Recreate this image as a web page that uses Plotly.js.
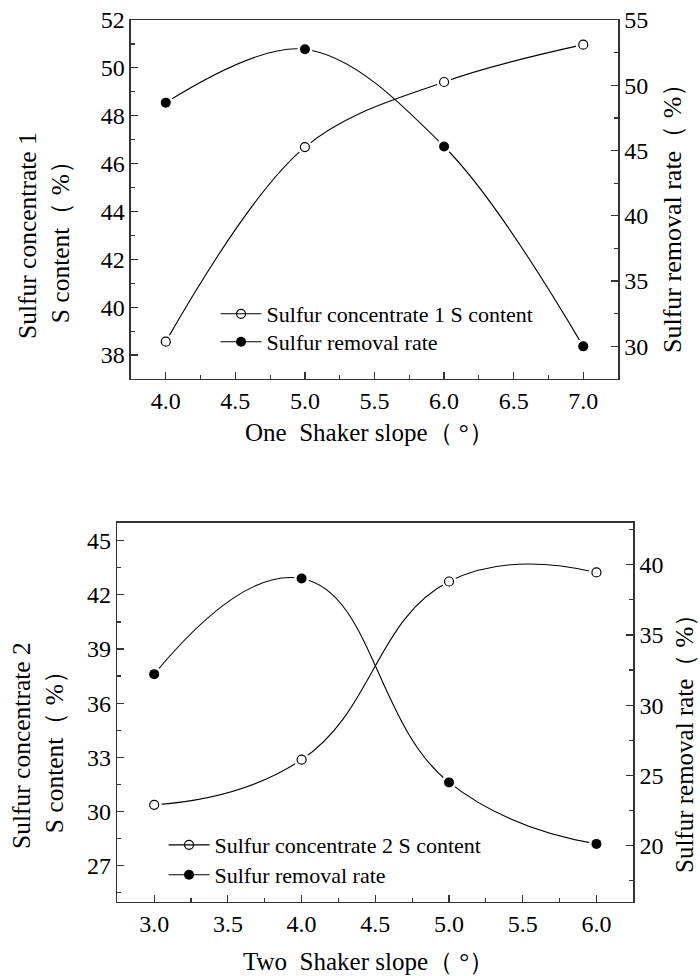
<!DOCTYPE html>
<html><head><meta charset="utf-8">
<script src="https://cdn.plot.ly/plotly-3.0.1.min.js"></script>
<style>body{margin:0;background:#fff}#c{width:700px;height:976px}</style>
</head><body><div id="c"></div>
<script>
// Top chart data
var slope1 = [4.0, 5.0, 6.0, 7.0];
var sContent1 = [38.56, 46.69, 49.41, 50.97];
var removal1 = [48.67, 52.76, 45.31, 30.0];
// Bottom chart data
var slope2 = [3.0, 4.0, 5.0, 6.0];
var sContent2 = [30.37, 32.87, 42.74, 43.24];
var removal2 = [32.21, 39.02, 24.5, 20.12];
// Labels
var names = ['Sulfur concentrate 1 S content', 'Sulfur removal rate', 'Sulfur concentrate 2 S content', 'Sulfur removal rate'];
var xTitles = ['One  Shaker slope（ °）', 'Two  Shaker slope（ °）'];
var yLeftTitles = ['Sulfur concentrate 1<br>S content（ %）', 'Sulfur concentrate 2<br>S content（ %）'];
var yRightTitle = 'Sulfur removal rate（ %）';

var F = 'Liberation Serif';
var blk = '#000';

function series(x, y, name, xa, ya, lg, filled, sm){
  var mk = filled ? {symbol:'circle', size:10, color:blk}
                  : {symbol:'circle-open', size:9, color:blk, line:{width:1.2, color:blk}};
  return [
    {x:x, y:y, name:name, xaxis:xa, yaxis:ya, legend:lg, type:'scatter', mode:'lines+markers',
      line:{shape:'spline', smoothing:sm, color:blk, width:1.1}, marker:mk},
    {x:x, y:y, xaxis:xa, yaxis:ya, showlegend:false, type:'scatter', mode:'markers',
      marker:{symbol:'circle', size:15, color:'#fff'}},
    {x:x, y:y, xaxis:xa, yaxis:ya, showlegend:false, type:'scatter', mode:'markers', marker:mk}
  ];
}
var data = [].concat(
  series(slope1, sContent1, names[0], 'x', 'y', 'legend', false, 1),
  series(slope1, removal1, names[1], 'x', 'y2', 'legend3', true, 1),
  series(slope2, sContent2, names[2], 'x2', 'y3', 'legend2', false, 1.3),
  series(slope2, removal2, names[3], 'x2', 'y4', 'legend4', true, 1.3)
);

function ax(o){
  var base = {showline:true, linecolor:'#333', linewidth:1.5, ticks:'inside', ticklen:7, tickwidth:1.2, tickcolor:'#333',
    showgrid:false, zeroline:false, tickfont:{family:F, size:24, color:blk}, automargin:false, fixedrange:true};
  for (var k in o) base[k]=o[k];
  return base;
}
var mn = function(d){return {dtick:d, tick0:0, ticks:'inside', ticklen:4, tickcolor:'#333'};};
function lg(x, y){
  return {x:x, y:y, xanchor:'left', yanchor:'top', bgcolor:'rgba(0,0,0,0)', font:{family:F, size:22, color:blk}, itemwidth:41, tracegroupgap:0};
}
function ann(text, x, y, size, angle){
  return {text:text, x:x, y:y, xref:'paper', yref:'paper', xanchor:'center', yanchor:'middle', showarrow:false,
    textangle:angle, font:{family:F, size:size, color:blk}};
}
var layout = {
  width:700, height:976, margin:{l:0,r:0,t:0,b:0}, paper_bgcolor:'#fff', plot_bgcolor:'#fff', showlegend:true,
  font:{family:F, color:blk},
  xaxis: ax({domain:[0.1871,0.8829], anchor:'y', range:[3.75,7.25], dtick:0.5, tick0:0, tickformat:'.1f', mirror:true, minor:mn(0.25)}),
  yaxis: ax({domain:[0.6117,0.9795], anchor:'x', range:[37,52], dtick:2, tick0:0, minor:mn(1)}),
  yaxis2: ax({overlaying:'y', anchor:'x', side:'right', range:[27.5,55], dtick:5, tick0:0, minor:mn(2.5)}),
  xaxis2: ax({domain:[0.1676,0.9047], anchor:'y3', range:[2.75,6.25], dtick:0.5, tick0:0, tickformat:'.1f', mirror:true, minor:mn(0.25)}),
  yaxis3: ax({domain:[0.0761,0.4645], anchor:'x2', range:[25,46], dtick:3, tick0:0, minor:mn(1.5)}),
  yaxis4: ax({overlaying:'y3', anchor:'x2', side:'right', range:[16,43], dtick:5, tick0:0, minor:mn(2.5)}),
  legend: lg(0.3079, 0.6998),
  legend3: lg(0.3079, 0.6711),
  legend2: lg(0.2336, 0.1557),
  legend4: lg(0.2336, 0.1250),
  annotations: [
    ann(xTitles[0], 369/700, 1-433/976, 25, 0),
    ann(xTitles[1], 368/700, 1-961/976, 25, 0),
    ann(yLeftTitles[0], 44/700, 1-236/976, 25.5, -90),
    ann(yLeftTitles[1], 38/700, 1-746/976, 25.5, -90),
    ann(yRightTitle, 673/700, 1-212/976, 26, -90),
    ann(yRightTitle, 684/700, 1-738/976, 25, -90)
  ]
};
Plotly.newPlot('c', data, layout, {displayModeBar:false, staticPlot:true});
</script></body></html>
